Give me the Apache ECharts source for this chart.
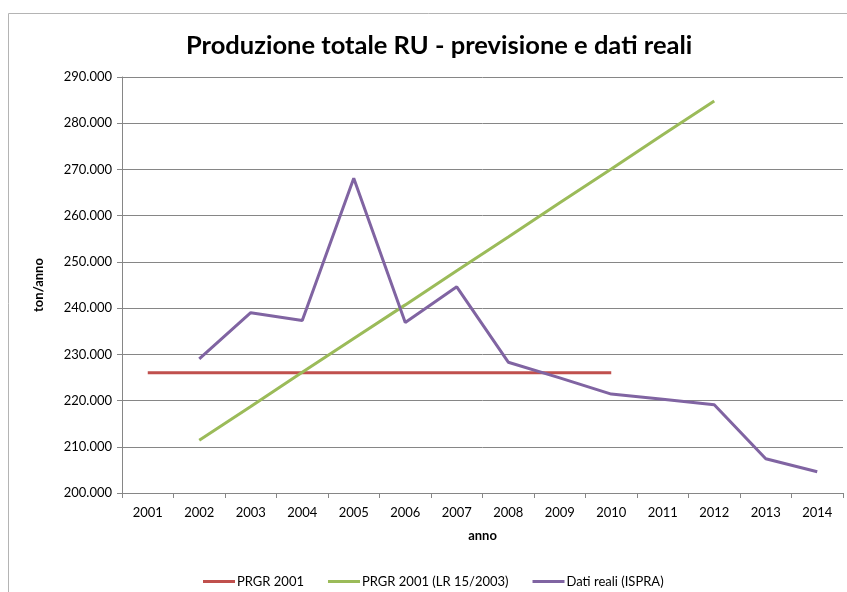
<!DOCTYPE html>
<html>
<head>
<meta charset="utf-8">
<script src="https://cdn.jsdelivr.net/npm/echarts@6/dist/echarts.min.js"></script>
<style>
  html, body { margin: 0; padding: 0; background: #fff; }
  #chart { width: 847px; height: 592px; }
</style>
</head>
<body>
<div id="chart"></div>
<script>
  var anni = ['2001', '2002', '2003', '2004', '2005', '2006', '2007', '2008', '2009', '2010', '2011', '2012', '2013', '2014'];
  // PRGR 2001 (previsione costante)
  var prgr2001 = [226000, 226000, 226000, 226000, 226000, 226000, 226000, 226000, 226000, 226000, null, null, null, null];
  // PRGR 2001 (LR 15/2003)
  var prgrLR = [null, 211400, 218700, 226100, 233400, 240700, 248100, 255400, 262800, 270100, 277500, 284800, null, null];
  // Dati reali (ISPRA)
  var datiReali = [null, 229000, 239000, 237300, 268100, 236900, 244600, 228300, 224900, 221400, 220300, 219100, 207400, 204600];

  var font = 'Lato, "Open Sans", sans-serif';

  function fmt(v) {
    return String(v).replace(/\B(?=(\d{3})+(?!\d))/g, '.');
  }

  var myChart = echarts.init(document.getElementById('chart'));
  myChart.setOption({
    animation: false,
    textStyle: { fontFamily: font },
    title: {
      text: 'Produzione totale RU - previsione e dati reali',
      left: 181,
      top: 28,
      textStyle: { fontFamily: font, fontSize: 25.5, fontWeight: 'bold', color: '#000' }
    },
    graphic: [{
      type: 'rect',
      shape: { x: 8.5, y: 13.5, width: 900, height: 700 },
      style: { fill: 'none', stroke: '#b4b4b4', lineWidth: 1 },
      silent: true
    }],
    legend: {
      left: 198,
      top: 570,
      itemWidth: 32,
      itemHeight: 3,
      itemGap: 24,
      icon: 'rect',
      textStyle: { fontFamily: font, fontSize: 13, color: '#000', padding: [0, 0, 0, -3] },
      data: ['PRGR 2001', 'PRGR 2001 (LR 15/2003)', 'Dati reali (ISPRA)']
    },
    grid: { left: 122, right: 4, top: 77, bottom: 99, containLabel: false },
    xAxis: {
      type: 'category',
      data: anni,
      boundaryGap: true,
      name: 'anno',
      nameLocation: 'middle',
      nameGap: 36,
      nameTextStyle: { fontFamily: font, fontSize: 13, fontWeight: 'bold', color: '#000' },
      axisLine: { lineStyle: { color: '#868686', width: 1 } },
      axisTick: { show: true, length: 5, alignWithLabel: false, lineStyle: { color: '#868686' } },
      axisLabel: { color: '#000', fontSize: 13, margin: 13, interval: 0 },
      splitLine: { show: false }
    },
    yAxis: {
      type: 'value',
      min: 200000,
      max: 290000,
      interval: 10000,
      name: 'ton/anno',
      nameLocation: 'middle',
      nameRotate: 90,
      nameGap: 77,
      nameTextStyle: { fontFamily: font, fontSize: 13, fontWeight: 'bold', color: '#000' },
      axisLine: { show: true, lineStyle: { color: '#868686', width: 1 } },
      axisTick: { show: true, length: 5, lineStyle: { color: '#868686' } },
      axisLabel: { color: '#000', fontSize: 13, margin: 10, formatter: fmt },
      splitLine: { show: true, lineStyle: { color: '#868686', width: 1 } }
    },
    series: [{
      name: 'PRGR 2001',
      type: 'line',
      data: prgr2001,
      symbol: 'none',
      lineStyle: { color: '#C0504D', width: 3 },
      itemStyle: { color: '#C0504D' }
    }, {
      name: 'PRGR 2001 (LR 15/2003)',
      type: 'line',
      data: prgrLR,
      symbol: 'none',
      lineStyle: { color: '#9BBB59', width: 3 },
      itemStyle: { color: '#9BBB59' }
    }, {
      name: 'Dati reali (ISPRA)',
      type: 'line',
      data: datiReali,
      symbol: 'none',
      lineStyle: { color: '#8064A2', width: 3 },
      itemStyle: { color: '#8064A2' }
    }]
  });
</script>
</body>
</html>
